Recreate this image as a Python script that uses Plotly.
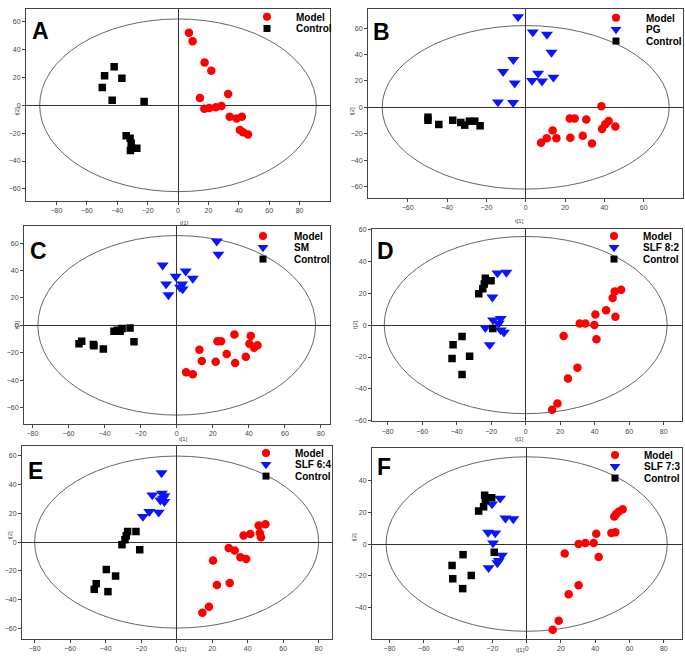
import plotly.graph_objects as go

W, H = 685, 664

# ---------------- data (score plots, t[1] vs t[2]) ----------------
A_model_t1 = [7.2, 9.6, 17.5, 21.9, 14.4, 33.0, 17.3, 20.5, 24.9, 28.6, 34.0, 38.5, 42.0, 40.7, 42.8, 46.1]
A_model_t2 = [52.1, 46.0, 30.8, 24.9, 5.2, 8.1, -2.4, -1.9, -1.4, -0.5, -8.3, -9.5, -8.3, -17.8, -19.4, -20.9]
A_ctrl_t1 = [-42.0, -48.3, -36.9, -49.8, -43.3, -22.3, -34.1, -31.5, -30.8, -30.4, -27.1, -31.3]
A_ctrl_t2 = [27.7, 21.3, 19.4, 12.8, 3.6, 2.8, -21.8, -23.7, -27.3, -30.8, -30.8, -32.5]

B_model_t1 = [38.5, 22.4, 24.9, 30.8, 42.2, 40.5, 38.8, 45.6, 13.7, 10.7, 7.8, 15.6, 22.7, 29.0, 33.7]
B_model_t2 = [0.8, -8.5, -8.5, -9.3, -10.3, -12.8, -16.5, -14.5, -17.5, -23.5, -26.8, -23.5, -23.0, -21.5, -27.5]
B_pg_t1 = [-3.9, 3.6, 10.8, 13.1, -6.3, -11.5, 6.3, -5.6, 3.2, 8.3, 14.1, -14.1, -6.4]
B_pg_t2 = [68.6, 57.1, 55.3, 41.6, 36.1, 27.0, 25.8, 18.3, 20.3, 19.8, 22.8, 4.0, 3.5]
B_ctrl_t1 = [-49.7, -49.7, -44.2, -37.1, -33.0, -31.0, -28.6, -25.9, -23.2]
B_ctrl_t2 = [-7.5, -9.8, -13.0, -9.8, -11.5, -13.5, -10.5, -10.5, -14.0]

C_model_t1 = [32.0, 41.1, 22.6, 24.6, 40.3, 42.9, 44.8, 12.6, 27.7, 38.3, 13.9, 21.6, 32.4, 5.2, 8.9]
C_model_t2 = [-6.7, -7.7, -11.6, -11.6, -13.5, -16.4, -14.5, -17.8, -21.0, -22.9, -26.0, -26.5, -27.5, -34.2, -35.7]
C_sm_t1 = [22.2, 23.1, -7.8, 5.0, -0.6, 8.9, -5.9, 3.0, 1.8, 3.3, -4.6]
C_sm_t2 = [61.4, 51.8, 43.9, 39.5, 35.7, 34.2, 30.1, 30.1, 27.7, 26.5, 22.2]
C_ctrl_t1 = [-34.8, -30.3, -31.4, -25.9, -23.7, -54.2, -52.7, -46.2, -45.9, -40.7, -33.0]
C_ctrl_t2 = [-4.3, -2.4, -4.3, -1.9, -12.0, -13.5, -11.6, -14.0, -14.9, -17.3, -3.5]

D_model_t1 = [55.3, 51.6, 50.4, 46.6, 40.4, 52.0, 31.3, 34.6, 39.8, 41.0, 22.0, 30.0, 24.5, 18.4, 15.3]
D_model_t2 = [22.1, 21.0, 16.9, 9.3, 6.6, 5.2, 1.0, 1.0, 0.0, -8.9, -6.8, -26.8, -33.4, -49.1, -53.0]
D_slf_t1 = [-11.2, -16.4, -19.3, -14.5, -18.9, -23.4, -15.7, -14.5, -12.6, -20.9]
D_slf_t2 = [33.0, 32.6, 17.5, 4.1, 3.1, -1.6, 1.0, -3.1, -4.5, -12.4]
D_ctrl_t1 = [-23.4, -20.1, -24.0, -24.9, -27.2, -19.1, -36.9, -42.1, -42.7, -32.5, -36.9]
D_ctrl_t2 = [29.3, 27.8, 25.8, 22.7, 19.6, -2.1, -7.2, -12.4, -21.0, -19.6, -30.9]

E_model_t1 = [50.0, 46.2, 41.5, 37.7, 46.8, 47.5, 29.3, 32.7, 35.9, 39.2, 20.5, 29.9, 22.7, 18.2, 14.5]
E_model_t2 = [12.3, 11.4, 5.5, 4.6, 6.2, 3.4, -4.1, -5.9, -10.5, -11.7, -12.8, -28.3, -29.7, -44.8, -48.9]
E_slf_t1 = [-8.5, -13.7, -8.3, -6.9, -7.7, -6.9, -9.2, -15.4, -10.1, -19.0]
E_slf_t2 = [47.8, 32.5, 33.6, 32.0, 30.2, 27.9, 29.0, 21.0, 20.6, 17.6]
E_ctrl_t1 = [-27.6, -22.9, -28.4, -29.1, -30.8, -20.8, -39.6, -34.4, -45.3, -46.4, -38.7]
E_ctrl_t2 = [7.3, 7.3, 4.3, 1.6, -1.8, -5.3, -19.0, -23.5, -28.8, -32.7, -34.3]

F_model_t1 = [56.0, 53.6, 52.1, 51.1, 51.7, 49.4, 40.6, 30.3, 34.2, 39.1, 42.0, 22.2, 30.3, 24.5, 18.7, 15.2]
F_model_t2 = [21.9, 20.4, 18.8, 17.3, 7.5, 6.9, 6.5, 0.0, 0.6, 0.6, -8.1, -6.0, -26.0, -31.7, -48.3, -54.0]
F_slf_t1 = [-15.5, -20.2, -12.4, -7.8, -22.5, -18.3, -19.6, -14.4, -16.3, -17.1, -22.2]
F_slf_t2 = [28.8, 25.2, 16.3, 15.8, 7.3, 6.9, 0.6, -7.1, -10.4, -11.9, -15.0]
F_ctrl_t1 = [-24.5, -20.4, -24.1, -25.1, -28.0, -18.9, -37.1, -43.5, -43.1, -32.3, -37.3]
F_ctrl_t2 = [30.8, 29.2, 27.1, 23.5, 20.8, -5.2, -6.7, -13.5, -21.9, -19.8, -28.1]

# Hotelling T2 ellipse semi-axes per panel
ELL_T1 = [91, 73, 77, 82, 80, 82]
ELL_T2 = [62, 62, 65.5, 55.5, 59.5, 55]

PANEL_LABELS = ["A", "B", "C", "D", "E", "F"]
GROUP_NAMES = [["Model", "Control"], ["Model", "PG", "Control"], ["Model", "SM", "Control"],
               ["Model", "SLF 8:2", "Control"], ["Model", "SLF 6:4", "Control"], ["Model", "SLF 7:3", "Control"]]
X_TICKS = [[-80, -60, -40, -20, 0, 20, 40, 60, 80], [-60, -40, -20, 0, 20, 40, 60]] + [[-80, -60, -40, -20, 0, 20, 40, 60, 80]] * 4
Y_TICKS = [[-60, -40, -20, 0, 20, 40, 60]] * 5 + [[-40, -20, 0, 20, 40]]

# ---------------- layout geometry (pixels) ----------------
BOXES = [(26, 6, 330, 199.5), (368, 6, 683, 196.7), (24, 225, 330, 424.7),
         (372, 227.7, 682, 422), (22, 446.7, 332, 641.7), (372, 449.3, 682, 641.7)]
XR = [(-100, 100), (-80.2, 80), (-84.7, 85), (-89.1, 90.6), (-87.1, 87.5), (-90.2, 90.6)]
YR = [(-68.5, 69.2), (-68.7, 74.6), (-71.9, 72.5), (-60.2, 60.4), (-67, 66.7), (-59.8, 60.4)]
LETTER_POS = [(40, 28), (381, 29), (38, 250), (385, 250), (35, 472), (384, 468)]
LEG_MARK_X = [267, 616, 263, 614, 266, 615]
LEG_TEXT_X = [294, 644, 292, 641, 293, 642]
LEG_Y0 = [14, 15, 235, 235, 454, 456]
LEG_DY = 11.7
XT_POS = [(178, 217), (526, 215), (177, 440), (526, 440), (176, 657), (527, 658)]
YT_POS = [(12, 103), (352, 103), (12, 325), (355, 325), (5, 544), (354, 546)]

panels = [
    [(A_model_t1, A_model_t2, "model"), (A_ctrl_t1, A_ctrl_t2, "ctrl")],
    [(B_model_t1, B_model_t2, "model"), (B_pg_t1, B_pg_t2, "drug"), (B_ctrl_t1, B_ctrl_t2, "ctrl")],
    [(C_model_t1, C_model_t2, "model"), (C_sm_t1, C_sm_t2, "drug"), (C_ctrl_t1, C_ctrl_t2, "ctrl")],
    [(D_model_t1, D_model_t2, "model"), (D_slf_t1, D_slf_t2, "drug"), (D_ctrl_t1, D_ctrl_t2, "ctrl")],
    [(E_model_t1, E_model_t2, "model"), (E_slf_t1, E_slf_t2, "drug"), (E_ctrl_t1, E_ctrl_t2, "ctrl")],
    [(F_model_t1, F_model_t2, "model"), (F_slf_t1, F_slf_t2, "drug"), (F_ctrl_t1, F_ctrl_t2, "ctrl")],
]
STYLE = {
    "model": dict(symbol="circle", color="#ff0000", size=8.5),
    "drug": dict(symbol="triangle-down", color="#0a14ff", size=10.5),
    "ctrl": dict(symbol="square", color="#000000", size=7.5),
}
LEG_STYLE = {
    "model": dict(symbol="circle", color="#ff0000", size=8),
    "drug": dict(symbol="triangle-down", color="#0a14ff", size=9.5),
    "ctrl": dict(symbol="square", color="#000000", size=7),
}

fig = go.Figure()
layout = dict(width=W, height=H, margin=dict(l=0, r=0, t=0, b=0),
              paper_bgcolor="white", plot_bgcolor="rgba(0,0,0,0)", showlegend=False)
shapes, annotations = [], []
tick_font = dict(family="Liberation Sans, Arial, sans-serif", size=7, color="#444444")

for i, groups in enumerate(panels):
    n = i + 1
    xa = "x" if n == 1 else f"x{n}"
    ya = "y" if n == 1 else f"y{n}"
    l, t, r, b = BOXES[i]
    common = dict(showgrid=False, zeroline=True, zerolinecolor="#333", zerolinewidth=1,
                  showline=True, linecolor="#444", linewidth=1, mirror=True,
                  ticks="outside", ticklen=3, tickcolor="#444", tickfont=tick_font)
    layout["xaxis" if n == 1 else f"xaxis{n}"] = dict(
        domain=[l / W, r / W], range=list(XR[i]), anchor=ya, tickvals=X_TICKS[i], **common)
    layout["yaxis" if n == 1 else f"yaxis{n}"] = dict(
        domain=[1 - b / H, 1 - t / H], range=list(YR[i]), anchor=xa, tickvals=Y_TICKS[i], **common)
    for (xs, ys, kind) in groups:
        st = STYLE[kind]
        fig.add_trace(go.Scatter(x=xs, y=ys, mode="markers", xaxis=xa, yaxis=ya,
                                 marker=dict(symbol=st["symbol"], color=st["color"], size=st["size"],
                                             line=dict(width=0))))
    shapes.append(dict(type="circle", xref=xa, yref=ya, x0=-ELL_T1[i], x1=ELL_T1[i],
                       y0=-ELL_T2[i], y1=ELL_T2[i], line=dict(color="#666", width=1), layer="below"))
    # panel letter
    lx, ly = LETTER_POS[i]
    annotations.append(dict(text=f"<b>{PANEL_LABELS[i]}</b>", x=lx / W, y=1 - ly / H, xref="paper", yref="paper",
                            showarrow=False, xanchor="center", yanchor="middle",
                            font=dict(family="Liberation Sans, Arial, sans-serif", size=23, color="black")))
    # axis titles
    tx, ty = XT_POS[i]
    annotations.append(dict(text="t[1]", x=tx / W, y=1 - ty / H, xref="paper", yref="paper", showarrow=False,
                            font=dict(family="Liberation Sans, Arial, sans-serif", size=6, color="#444444")))
    tx, ty = YT_POS[i]
    annotations.append(dict(text="t[2]", x=tx / W, y=1 - ty / H, xref="paper", yref="paper", showarrow=False,
                            textangle=-90,
                            font=dict(family="Liberation Sans, Arial, sans-serif", size=6, color="#444444")))
    # custom legend
    for k, (grp, name) in enumerate(zip(groups, GROUP_NAMES[i])):
        yy = LEG_Y0[i] + k * LEG_DY
        st = LEG_STYLE[grp[2]]
        fig.add_trace(go.Scatter(x=[LEG_MARK_X[i]], y=[yy], mode="markers", xaxis="x7", yaxis="y7",
                                 cliponaxis=False,
                                 marker=dict(symbol=st["symbol"], color=st["color"], size=st["size"],
                                             line=dict(width=0))))
        annotations.append(dict(text=f"<b>{name}</b>", x=LEG_TEXT_X[i] / W, y=1 - (yy + 0.5) / H,
                                xref="paper", yref="paper", showarrow=False, xanchor="left", yanchor="middle",
                                font=dict(family="Liberation Sans, Arial, sans-serif", size=10, color="black")))

layout["xaxis7"] = dict(domain=[0, 1], range=[0, W], visible=False, anchor="y7")
layout["yaxis7"] = dict(domain=[0, 1], range=[H, 0], visible=False, anchor="x7")
layout["shapes"] = shapes
layout["annotations"] = annotations
fig.update_layout(**layout)
fig.write_html("out.html", config={"displayModeBar": False},
               post_script="document.body.style.margin='0';")
